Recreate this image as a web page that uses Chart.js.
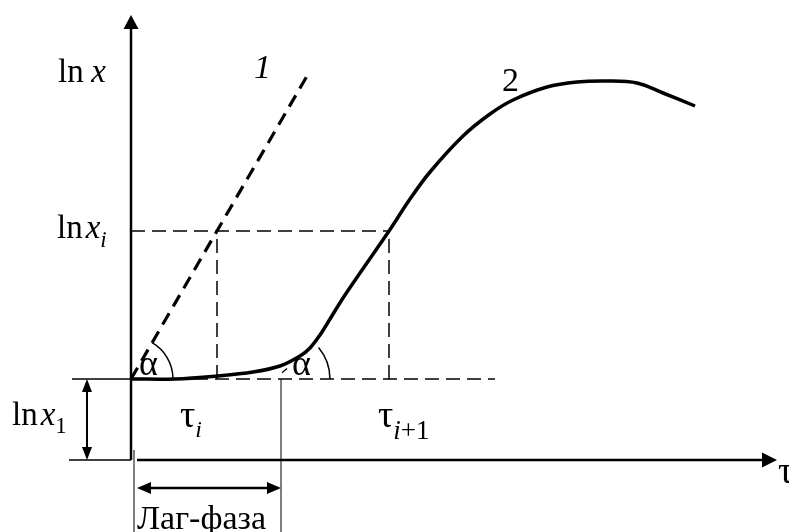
<!DOCTYPE html>
<html>
<head>
<meta charset="utf-8">
<script src="https://cdn.jsdelivr.net/npm/chart.js@4"></script>
<style>
  html, body { margin: 0; padding: 0; background: #fff; }
  canvas { display: block; }
</style>
</head>
<body>
<canvas id="myChart" width="789" height="532"></canvas>
<script>
// growth curve (2): time tau vs ln x
const tau = [0, 2.2, 4.3, 6.1, 7.45, 8.45, 8.95, 9.45, 9.95, 10.7, 12.9, 13.95, 14.95, 16.6, 17.95, 19.1, 20.8, 22.3, 23.8, 25.3, 26.6, 28.2];
const lnX = [4.05, 4.05, 4.2, 4.4, 4.7, 5.2, 5.6, 6.25, 7.05, 8.25, 11.45, 13.05, 14.4, 16.2, 17.3, 18.0, 18.65, 18.9, 18.95, 18.85, 18.35, 17.7];

// exponential growth without lag (1)
const line1Tau = [0, 8.8];
const line1LnX = [4.05, 19.2];

// reference levels and times
const lnX1 = 4.05;
const lnXi = 11.45;
const tauI = 4.3;
const tauI1 = 12.9;
const lagEnd = 7.5;
const baselineEnd = 18.2;

const toPoints = (xs, ys) => xs.map((x, i) => ({ x: x, y: ys[i] }));

const serif = '"Liberation Serif", "Times New Roman", serif';

// text pieces: [text, italic, size, dy]
const labels = [
  { x: -3.65, y: 18.9, parts: [['ln', false, 33, 0], [' ', false, 30, 0], ['x', true, 33, 0]] },
  { x: 6.15, y: 19.1, parts: [['1', true, 34, 0]] },
  { x: 18.55, y: 18.45, parts: [['2', false, 34, 0]] },
  { x: -3.7, y: 11.1, parts: [['ln', false, 33, 0], [' ', false, 12, 0], ['x', true, 33, 0], ['i', true, 23, 9]] },
  { x: -5.95, y: 1.75, parts: [['ln', false, 33, 0], [' ', false, 12, 0], ['x', true, 33, 0], ['1', false, 23, 8]] },
  { x: 2.45, y: 1.65, parts: [['τ', false, 38, 0], ['i', true, 24, 10]] },
  { x: 12.35, y: 1.65, parts: [['τ', false, 38, 0], ['i', true, 27, 12], ['+1', false, 27, 12]] },
  { x: 32.35, y: -1.15, parts: [['τ', false, 38, 0]] },
  { x: 0.3, y: -3.45, parts: [['Лаг-фаза', false, 34, 0]] },
  { x: 0.4, y: 4.25, parts: [['α', false, 36, 0]] },
  { x: 8.05, y: 4.25, parts: [['α', false, 36, 0]] }
];

function arrowHead(ctx, x, y, dx, dy, len, half) {
  ctx.beginPath();
  ctx.moveTo(x, y);
  ctx.lineTo(x - dx * len - dy * half, y - dy * len + dx * half);
  ctx.lineTo(x - dx * len + dy * half, y - dy * len - dx * half);
  ctx.closePath();
  ctx.fill();
}

function seg(ctx, x1, y1, x2, y2, w) {
  ctx.lineWidth = w;
  ctx.beginPath();
  ctx.moveTo(x1, y1);
  ctx.lineTo(x2, y2);
  ctx.stroke();
}

const diagram = {
  id: 'diagram',
  afterDatasetsDraw(chart) {
    const ctx = chart.ctx;
    const xs = chart.scales.x, ys = chart.scales.y;
    const px = v => xs.getPixelForValue(v);
    const py = v => ys.getPixelForValue(v);
    ctx.save();
    ctx.strokeStyle = '#000';
    ctx.fillStyle = '#000';
    ctx.setLineDash([]);
    ctx.lineCap = 'butt';

    // axes
    seg(ctx, px(0), py(0), px(0), py(22.25) + 12, 2.5);
    arrowHead(ctx, px(0), py(22.25), 0, -1, 14, 7.5);
    seg(ctx, px(0.3), py(0), px(32.3) - 12, py(0), 2.5);
    arrowHead(ctx, px(32.3), py(0), 1, 0, 15, 7.5);

    // ln x1 bracket
    seg(ctx, px(-2.95), py(lnX1), px(0), py(lnX1), 1.6);
    seg(ctx, px(-3.1), py(0), px(0), py(0), 1.6);
    seg(ctx, px(-2.2), py(0) - 10, px(-2.2), py(lnX1) + 10, 2);
    arrowHead(ctx, px(-2.2), py(lnX1), 0, -1, 13, 5);
    arrowHead(ctx, px(-2.2), py(0), 0, 1, 13, 5);

    // lag phase bracket
    seg(ctx, px(0.15), py(0.5), px(0.15), chart.height, 1);
    seg(ctx, px(lagEnd), py(lnX1), px(lagEnd), chart.height, 1);
    seg(ctx, px(0.3) + 12, py(-1.4), px(lagEnd) - 12, py(-1.4), 2.5);
    arrowHead(ctx, px(0.3), py(-1.4), -1, 0, 14, 6);
    arrowHead(ctx, px(lagEnd), py(-1.4), 1, 0, 14, 6);

    // angle arcs
    const ox = px(line1Tau[0]), oy = py(line1LnX[0]);
    const a1 = Math.atan2(oy - py(line1LnX[1]), px(line1Tau[1]) - ox);
    ctx.lineWidth = 1.5;
    ctx.beginPath();
    ctx.arc(ox, oy, 42, -a1, 0);
    ctx.stroke();
    ctx.beginPath();
    ctx.arc(px(lagEnd), py(lnX1), 49, -40 * Math.PI / 180, 0);
    ctx.stroke();
    // tangent stub at the end of lag
    seg(ctx, px(7.55), py(4.36), px(7.8), py(4.58), 1.3);

    // labels
    ctx.textBaseline = 'alphabetic';
    labels.forEach(l => {
      let x = px(l.x);
      const y = py(l.y);
      l.parts.forEach(p => {
        ctx.font = (p[1] ? 'italic ' : '') + p[2] + 'px ' + serif;
        ctx.fillText(p[0], x, y + p[3]);
        x += ctx.measureText(p[0]).width;
      });
    });
    ctx.restore();
  }
};

const guideStyle = {
  showLine: true, pointRadius: 0, borderColor: '#000', borderWidth: 1.5, borderDash: [14, 7]
};

const ctx = document.getElementById('myChart').getContext('2d');
const myChart = new Chart(ctx, {
  type: 'scatter',
  data: {
    datasets: [
      Object.assign({ data: [{ x: 0, y: lnXi }, { x: tauI1, y: lnXi }] }, guideStyle),
      Object.assign({ data: [{ x: tauI, y: lnX1 }, { x: tauI, y: lnXi }] }, guideStyle),
      Object.assign({ data: [{ x: tauI1, y: lnX1 }, { x: tauI1, y: lnXi }] }, guideStyle),
      Object.assign({ data: [{ x: 0, y: lnX1 }, { x: baselineEnd, y: lnX1 }] }, guideStyle),
      {
        data: toPoints(line1Tau, line1LnX),
        showLine: true, pointRadius: 0, borderColor: '#000', borderWidth: 3.2, borderDash: [13, 8]
      },
      {
        data: toPoints(tau, lnX),
        showLine: true, pointRadius: 0, borderColor: '#000', borderWidth: 3.5,
        tension: 0.35
      }
    ]
  },
  options: {
    responsive: false,
    animation: false,
    events: [],
    layout: { padding: 0 },
    scales: {
      x: { type: 'linear', display: false, min: -6.55, max: 32.9 },
      y: { type: 'linear', display: false, min: -3.6, max: 23 }
    },
    plugins: {
      legend: { display: false },
      tooltip: { enabled: false }
    }
  },
  plugins: [diagram]
});
</script>
</body>
</html>
